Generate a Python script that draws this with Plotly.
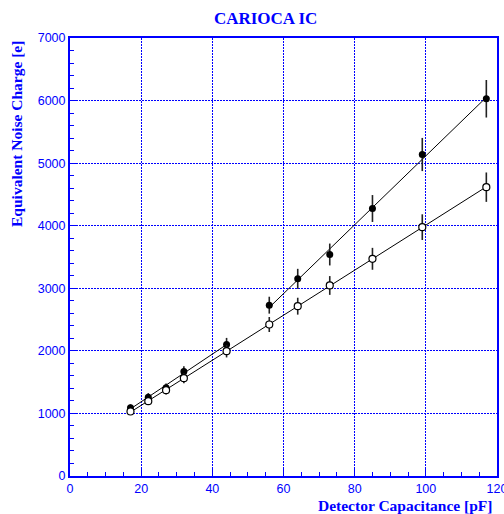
import numpy as np
import plotly.graph_objects as go

# Detector capacitance [pF]
cap = [17, 22, 27, 32, 44, 56, 64, 73, 85, 99, 117]
# Equivalent noise charge [e] - filled markers
enc_filled = [1090, 1259, 1410, 1670, 2102, 2730, 3151, 3540, 4275, 5138, 6029]
err_filled = [55, 65, 70, 85, 105, 135, 160, 175, 215, 265, 300]
# Equivalent noise charge [e] - open markers
enc_open = [1031, 1196, 1371, 1563, 1995, 2421, 2714, 3045, 3471, 3977, 4616]
err_open = [50, 60, 70, 80, 100, 120, 135, 150, 175, 205, 235]

# fit segments (index ranges)
filled_seg1 = slice(0, 5)
filled_seg2 = slice(5, 11)

BLUE = "#0000ff"

fig = go.Figure()

def fit_line(xs, ys):
    xs = np.array(xs, float)
    ys = np.array(ys, float)
    p = np.polyfit(xs, ys, 1)
    xl = np.array([xs.min(), xs.max()])
    return xl, np.polyval(p, xl)

for seg in (filled_seg1, filled_seg2):
    xl, yl = fit_line(cap[seg], enc_filled[seg])
    fig.add_trace(go.Scatter(x=xl, y=yl, mode="lines",
                             line=dict(color="black", width=1), showlegend=False, hoverinfo="skip"))
xl, yl = fit_line(cap, enc_open)
fig.add_trace(go.Scatter(x=xl, y=yl, mode="lines",
                         line=dict(color="black", width=1), showlegend=False, hoverinfo="skip"))

fig.add_trace(go.Scatter(
    x=cap, y=enc_filled, mode="markers",
    marker=dict(symbol="circle", size=7, color="black"),
    error_y=dict(type="data", array=err_filled, visible=True, thickness=1.6, width=0, color="#222222"),
    showlegend=False))
fig.add_trace(go.Scatter(
    x=cap, y=enc_open, mode="markers",
    marker=dict(symbol="circle", size=7, color="white", line=dict(color="black", width=1.2)),
    error_y=dict(type="data", array=err_open, visible=True, thickness=1.6, width=0, color="#222222"),
    showlegend=False))

axis_common = dict(
    showline=True, linecolor=BLUE, linewidth=2, mirror=True,
    showgrid=True, gridcolor=BLUE, gridwidth=1, griddash="2px,1px",
    zeroline=False, ticks="inside", tickcolor=BLUE, ticklen=8, tickwidth=1,
    tickfont=dict(family="Liberation Sans, Arial", size=12.5, color=BLUE),
    ticklabeloverflow="allow", automargin=False,
)

fig.update_xaxes(range=[0, 120], tick0=0, dtick=20,
                 minor=dict(ticks="inside", dtick=5, ticklen=4, tickcolor=BLUE, showgrid=False),
                 **axis_common)
fig.update_yaxes(range=[0, 7000], tick0=0, dtick=1000,
                 minor=dict(ticks="inside", dtick=200, ticklen=4, tickcolor=BLUE, showgrid=False),
                 **axis_common)

fig.update_layout(
    width=504, height=514,
    margin=dict(l=70, r=7, t=38, b=38, autoexpand=False),
    paper_bgcolor="white", plot_bgcolor="white",
    title=dict(text="<b>CARIOCA IC</b>", x=0.527, xanchor="center", y=0.965, yanchor="middle",
               font=dict(family="Liberation Serif, Times New Roman", size=17, color=BLUE)),
    annotations=[
        dict(text="<b>Equivalent Noise Charge [e]</b>", textangle=-90,
             xref="paper", yref="paper", x=0, y=1, xanchor="center", yanchor="top",
             xshift=-54, yshift=-1, showarrow=False,
             font=dict(family="Liberation Serif, Times New Roman", size=15.5, color=BLUE)),
        dict(text="<b>Detector Capacitance [pF]</b>",
             xref="paper", yref="paper", x=1, y=0, xanchor="right", yanchor="middle",
             xshift=-3, yshift=-29, showarrow=False,
             font=dict(family="Liberation Serif, Times New Roman", size=15.5, color=BLUE)),
    ],
)

fig.write_html("out.html", config={"displayModeBar": False},
               post_script="document.body.style.margin='0';")
